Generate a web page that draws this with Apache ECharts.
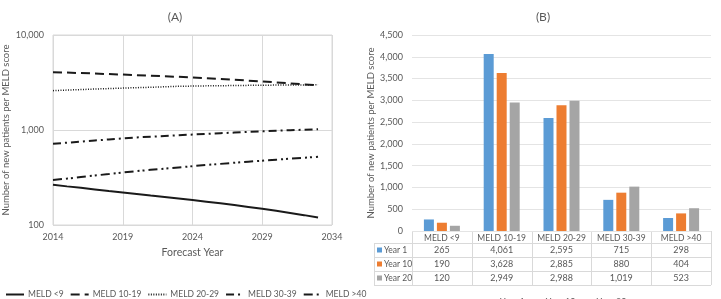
<!DOCTYPE html>
<html>
<head>
<meta charset="utf-8">
<script src="https://cdn.jsdelivr.net/npm/echarts@6/dist/echarts.min.js"></script>
<style>
  html, body { margin: 0; padding: 0; background: #fff; }
  #chart { width: 721px; height: 299px; }
</style>
</head>
<body>
<div id="chart"></div>
<script>
// panel A: forecast per year
const years = [2014, 2015, 2016, 2017, 2018, 2019, 2020, 2021, 2022, 2023,
               2024, 2025, 2026, 2027, 2028, 2029, 2030, 2031, 2032, 2033];
const meldUnder9 = [265, 255, 246, 237, 228, 220, 212, 204, 197, 190, 183, 176, 169, 162, 155, 148, 141, 134, 127, 120];
const meld10to19 = [4061, 4020, 3975, 3930, 3880, 3830, 3780, 3725, 3675, 3628, 3570, 3510, 3445, 3380, 3310, 3240, 3170, 3095, 3020, 2949];
const meld20to29 = [2595, 2630, 2665, 2700, 2730, 2760, 2790, 2815, 2850, 2885, 2900, 2915, 2925, 2940, 2950, 2960, 2970, 2978, 2984, 2988];
const meld30to39 = [715, 735, 755, 775, 795, 815, 835, 850, 865, 880, 895, 910, 925, 940, 955, 968, 982, 995, 1007, 1019];
const meldOver40 = [298, 308, 320, 332, 344, 357, 369, 381, 392, 404, 416, 428, 440, 452, 464, 475, 487, 499, 511, 523];

// panel B: bars + table
const categories = ['MELD <9', 'MELD 10-19', 'MELD 20-29', 'MELD 30-39', 'MELD >40'];
const year1 = [265, 4061, 2595, 715, 298];
const year10 = [190, 3628, 2885, 880, 404];
const year20 = [120, 2949, 2988, 1019, 523];
const barNames = ['Year 1', 'Year 10', 'Year 20'];
const barColors = ['#5b9bd5', '#ed7d31', '#a5a5a5'];

const font = 'Lato, "Open Sans", sans-serif';
const txt = '#595959';
const gridCol = '#d9d9d9';
const fmt = v => Number(v).toLocaleString('en-US');

const pair = arr => arr.map((v, i) => [years[i], v]);

// grid B geometry (also used for the table)
const gB = { left: 412, top: 35, width: 299, height: 196 };

const chart = echarts.init(document.getElementById('chart'));

// data table under panel B, built from the arrays
const table = [];
const colW = gB.width / categories.length;
const tTop = gB.top + gB.height;
const headH = 12, rowH = 14;
const tBot = tTop + headH + rowH * 3;
const tLeft = 374;
const line = (x1, y1, x2, y2) => ({ type: 'line', silent: true,
  shape: { x1, y1, x2, y2 }, style: { stroke: gridCol, lineWidth: 1 } });
table.push(line(gB.left, tTop + 0.5, gB.left + gB.width, tTop + 0.5));
for (let r = 0; r <= 3; r++) {
  const y = tTop + headH + rowH * r + 0.5;
  table.push(line(tLeft, y, gB.left + gB.width, y));
}
table.push(line(tLeft + 0.5, tTop + headH, tLeft + 0.5, tBot));
for (let c = 0; c <= categories.length; c++) {
  const x = Math.round(gB.left + colW * c) + 0.5;
  table.push(line(x, tTop, x, tBot));
}
[year1, year10, year20].forEach((row, r) => {
  const cy = tTop + headH + rowH * r + rowH / 2 + 0.5;
  table.push({ type: 'rect', silent: true,
    shape: { x: tLeft + 3, y: cy - 3, width: 5, height: 5 },
    style: { fill: barColors[r] } });
  table.push({ type: 'text', silent: true, x: tLeft + 10, y: cy,
    style: { text: barNames[r], fill: txt, font: '8.5px ' + font, textVerticalAlign: 'middle' } });
  row.forEach((v, c) => {
    table.push({ type: 'text', silent: true, x: gB.left + colW * (c + 0.5), y: cy,
      style: { text: fmt(v), fill: txt, font: '9px ' + font, textAlign: 'center', textVerticalAlign: 'middle' } });
  });
});

const lineSeries = (name, data, type, width) => ({
  name, type: 'line', xAxisIndex: 0, yAxisIndex: 0, data: pair(data),
  symbol: 'none', lineStyle: { color: '#1a1a1a', width, type }, itemStyle: { color: '#1a1a1a' }
});

const barSeries = (name, data, i) => ({
  name, type: 'bar', xAxisIndex: 1, yAxisIndex: 1, data,
  barWidth: 10, barGap: '30%', itemStyle: { color: barColors[i] }
});

const option = {
  animation: false,
  textStyle: { fontFamily: font },
  title: [
    { text: '(A)', left: 170, top: 6, textAlign: 'center', textStyle: { fontSize: 12, fontWeight: 'normal', color: txt, fontFamily: font } },
    { text: '(B)', left: 538, top: 6, textAlign: 'center', textStyle: { fontSize: 12, fontWeight: 'normal', color: txt, fontFamily: font } }
  ],
  legend: [
    { data: ['MELD <9', 'MELD 10-19', 'MELD 20-29', 'MELD 30-39', 'MELD >40'],
      left: 0, top: 285, itemWidth: 18, itemHeight: 8, itemGap: 6,
      itemStyle: { opacity: 0 },
      textStyle: { color: txt, fontSize: 8.5, fontFamily: font, padding: [0, 0, 0, -1] } },
    { data: barNames, left: 484, top: 293, itemWidth: 6, itemHeight: 6, itemGap: 10, icon: 'rect',
      textStyle: { color: txt, fontSize: 9, fontFamily: font } }
  ],
  grid: [
    { left: 52, top: 35, width: 280, height: 190, show: true, borderColor: gridCol, borderWidth: 1 },
    { left: gB.left, top: gB.top, width: gB.width, height: gB.height }
  ],
  xAxis: [
    { type: 'value', gridIndex: 0, min: 2014, max: 2034, interval: 5,
      name: 'Forecast Year', nameLocation: 'middle', nameGap: 22,
      nameTextStyle: { color: txt, fontSize: 10.5, fontFamily: font },
      axisLine: { show: false }, axisTick: { show: false },
      axisLabel: { color: txt, fontSize: 9, margin: 8, formatter: v => String(v) },
      splitLine: { show: true, lineStyle: { color: gridCol, width: 1 } } },
    { type: 'category', gridIndex: 1, data: categories,
      axisLine: { show: false }, axisTick: { show: false },
      axisLabel: { color: txt, fontSize: 8.5, margin: 3, interval: 0 } }
  ],
  yAxis: [
    { type: 'log', gridIndex: 0, logBase: 10, min: 100, max: 10000,
      name: 'Number of new patients per MELD score', nameLocation: 'middle', nameGap: 42,
      nameTextStyle: { color: txt, fontSize: 9.5, fontFamily: font },
      axisLine: { show: false }, axisTick: { show: false },
      axisLabel: { color: txt, fontSize: 9, margin: 9, formatter: fmt },
      splitLine: { show: true, lineStyle: { color: gridCol, width: 1 } },
      minorSplitLine: { show: false } },
    { type: 'value', gridIndex: 1, min: 0, max: 4500, interval: 500,
      name: 'Number of new patients per MELD score', nameLocation: 'middle', nameGap: 36,
      nameTextStyle: { color: txt, fontSize: 9.5, fontFamily: font },
      axisLine: { show: false }, axisTick: { show: false },
      axisLabel: { color: txt, fontSize: 9, margin: 9, formatter: fmt },
      splitLine: { show: true, lineStyle: { color: '#e4e4e4', width: 1 } } }
  ],
  graphic: table,
  series: [
    lineSeries('MELD <9', meldUnder9, 'solid', 2),
    lineSeries('MELD 10-19', meld10to19, [9, 5], 2),
    lineSeries('MELD 20-29', meld20to29, [1, 1.5], 1.5),
    lineSeries('MELD 30-39', meld30to39, [8, 4, 2, 4], 2),
    lineSeries('MELD >40', meldOver40, [9, 4, 2, 3, 2, 4], 2),
    barSeries('Year 1', year1, 0),
    barSeries('Year 10', year10, 1),
    barSeries('Year 20', year20, 2)
  ]
};

chart.setOption(option);
</script>
</body>
</html>
